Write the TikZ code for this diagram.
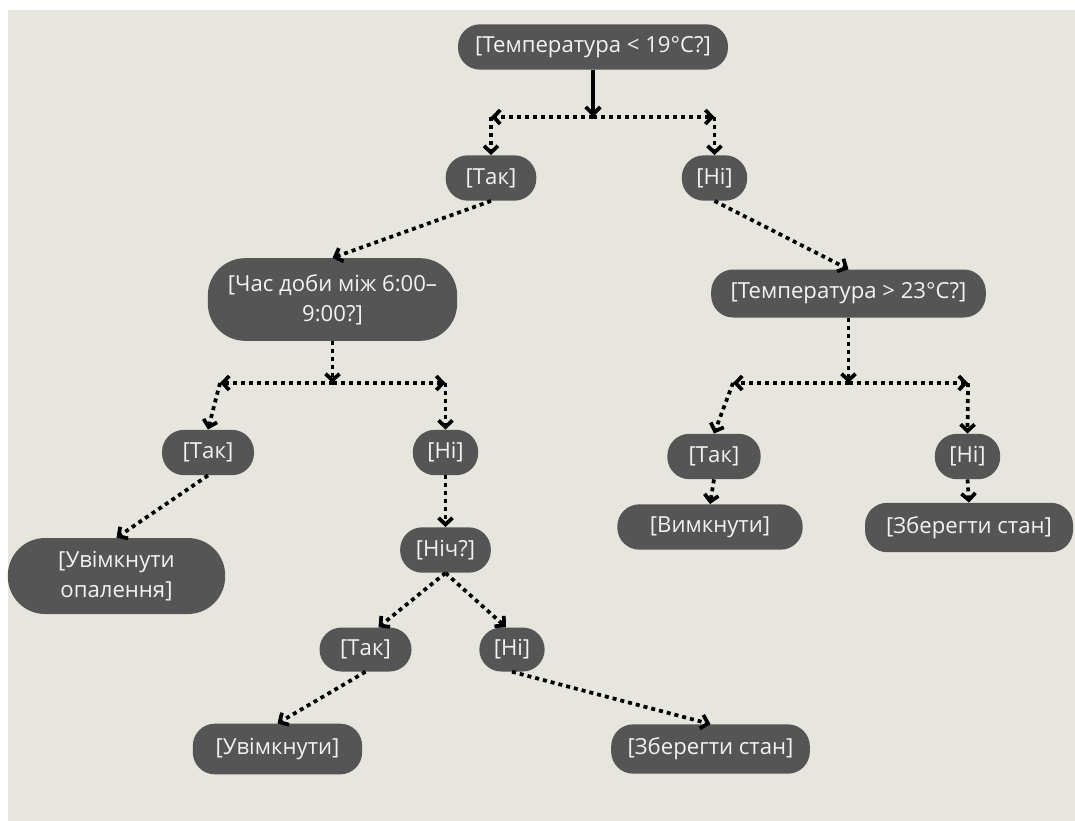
\documentclass[tikz,border=0pt]{standalone}
\usepackage{fontspec}
\setmainfont{Open Sans}
\usetikzlibrary{arrows.meta,calc}
\definecolor{bgc}{HTML}{E6E5DE}
\definecolor{boxc}{HTML}{555555}
\definecolor{txtc}{HTML}{F2F2F2}
\begin{document}
\begin{tikzpicture}[x=0.75pt,y=-0.75pt,
  box/.style={fill=boxc, text=txtc, font=\fontsize{16.6}{22.5}\selectfont, align=center, inner sep=0pt, rounded corners=16.5pt, minimum height=34pt},
  tall/.style={rounded corners=28pt},
  dotarrow/.style={line width=2.8pt, dash pattern=on 3pt off 3pt, -{Straight Barb[length=5pt,width=10.5pt]}},
  solidarrow/.style={line width=2.8pt, -{Straight Barb[length=5.5pt,width=11pt]}}]
\useasboundingbox (0,0) rectangle (1075,821);
\fill[white] (0,0) rectangle (1075,821);
\fill[bgc] (8,10) rectangle (1075,821);

% nodes
\node[box, minimum width=202.5pt] (n0) at (593,47) {[Температура < 19°C?]};
\node[box, minimum width=68pt] (yes1) at (491,178) {[Так]};
\node[box, minimum width=49pt] (no1) at (714.5,178) {[Ні]};
\node[box, tall, minimum width=187pt, minimum height=62pt] (time) at (332.5,299.5) {[Час доби між 6:00–\\9:00?]};
\node[box, minimum width=206pt, minimum height=36pt] (t23) at (848.5,293.5) {[Температура > 23°C?]};
\node[box, minimum width=69pt] (yes2) at (208,452.5) {[Так]};
\node[box, minimum width=49pt] (no2) at (445.5,452.5) {[Ні]};
\node[box, tall, minimum width=163pt, minimum height=57pt] (heat) at (116.5,576) {[Увімкнути\\опалення]};
\node[box, minimum width=68pt] (night) at (445.5,550) {[Ніч?]};
\node[box, minimum width=69pt, minimum height=33pt] (yes3) at (365.5,649.5) {[Так]};
\node[box, minimum width=49pt, minimum height=33pt] (no3) at (512,649.5) {[Ні]};
\node[box, minimum width=127pt, minimum height=38pt] (on) at (277.5,749) {[Увімкнути]};
\node[box, minimum width=149pt, minimum height=37pt] (keep3) at (710.5,749) {[Зберегти стан]};
\node[box, minimum width=70pt] (yes4) at (714,456.5) {[Так]};
\node[box, minimum width=49pt] (no4) at (967.5,456.5) {[Ні]};
\node[box, minimum width=139pt] (off) at (710,527) {[Вимкнути]};
\node[box, minimum width=156pt, minimum height=37pt] (keep4) at (969,527.5) {[Зберегти стан]};

% junction coordinates
\coordinate (j0) at (593,117);
\coordinate (jl0) at (491,117);
\coordinate (jr0) at (714.5,117);
\coordinate (j1) at (332.5,383);
\coordinate (jl1) at (220,383);
\coordinate (jr1) at (445.5,383);
\coordinate (j2) at (848.5,383);
\coordinate (jl2) at (733,383);
\coordinate (jr2) at (968,383);

% connectors
\draw[solidarrow] (n0.south) -- (j0);
\draw[dotarrow] (j0) -- (jl0);
\draw[dotarrow] (j0) -- (jr0);
\draw[dotarrow] (jl0) -- (yes1.north);
\draw[dotarrow] (jr0) -- (no1.north);
\draw[dotarrow] (yes1.south) -- (time.north);
\draw[dotarrow] (no1.south) -- (t23.north);

\draw[dotarrow] (time.south) -- (j1);
\draw[dotarrow] (j1) -- (jl1);
\draw[dotarrow] (j1) -- (jr1);
\draw[dotarrow] (jl1) -- (yes2.north);
\draw[dotarrow] (jr1) -- (no2.north);
\draw[dotarrow] (yes2.south) -- (heat.north);
\draw[dotarrow] (no2.south) -- (night.north);
\draw[dotarrow] (night.south) -- ($(yes3.north)+(13,0)$);
\draw[dotarrow] (night.south) -- ($(no3.north)+(-6,0)$);
\draw[dotarrow] (yes3.south) -- (on.north);
\draw[dotarrow] (no3.south) -- (keep3.north);

\draw[dotarrow] (t23.south) -- (j2);
\draw[dotarrow] (j2) -- (jl2);
\draw[dotarrow] (j2) -- (jr2);
\draw[dotarrow] (jl2) -- (yes4.north);
\draw[dotarrow] (jr2) -- (no4.north);
\draw[dotarrow] (yes4.south) -- (off.north);
\draw[dotarrow] (no4.south) -- (keep4.north);
\end{tikzpicture}
\end{document}
